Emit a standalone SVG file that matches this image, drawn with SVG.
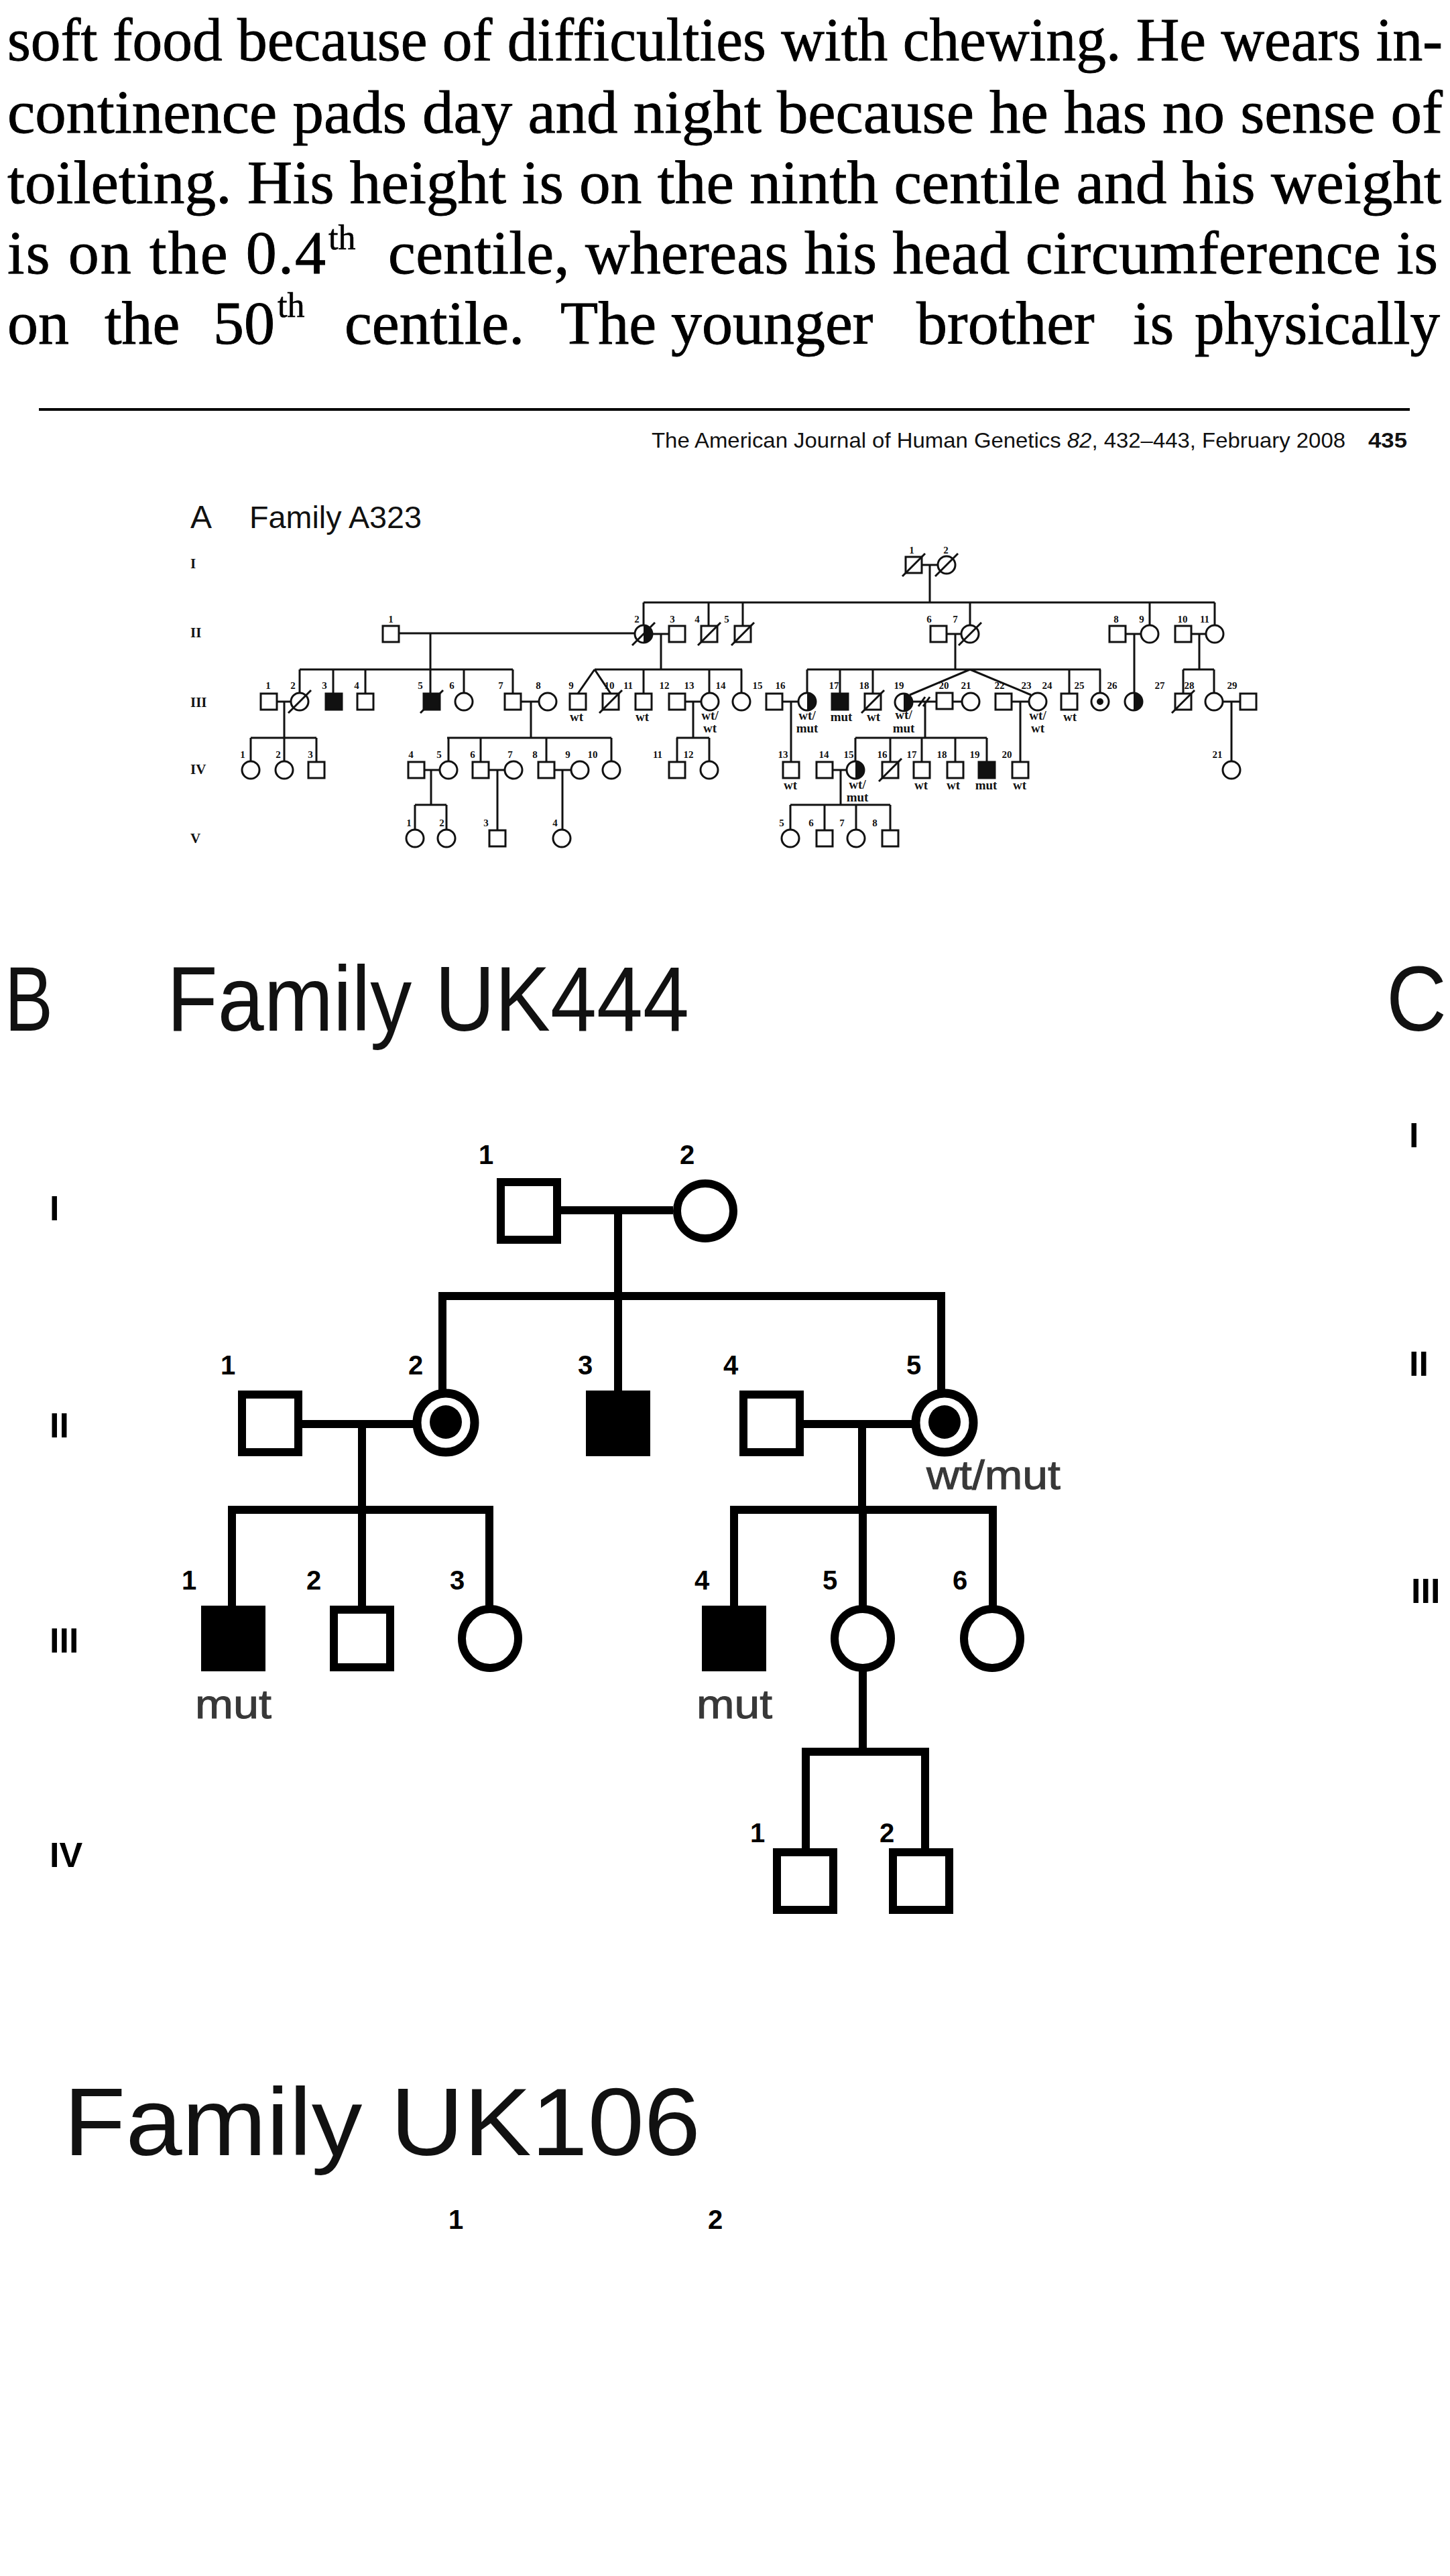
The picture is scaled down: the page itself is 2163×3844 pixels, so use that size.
<svg xmlns="http://www.w3.org/2000/svg" width="2163" height="3844" viewBox="0 0 2163 3844">
<style>
.body{font-family:"Liberation Serif",serif;font-size:92px;fill:#000;stroke:#000;stroke-width:0.9px}
.sup{font-family:"Liberation Serif",serif;font-size:52px;fill:#000;stroke:#000;stroke-width:0.6px}
.jr{font-family:"Liberation Sans",sans-serif;font-size:32px;fill:#111}
.ttl{font-family:"Liberation Sans",sans-serif;fill:#111}
.gA{font-family:"Liberation Serif",serif;font-weight:bold;font-size:21px;fill:#111}
.an{font-family:"Liberation Serif",serif;font-weight:bold;font-size:15px;fill:#111;text-anchor:middle}
.ag{font-family:"Liberation Serif",serif;font-weight:bold;font-size:19px;fill:#111;text-anchor:middle}
.o{fill:#fff;stroke:#111;stroke-width:3}
.f{fill:#111;stroke:#111;stroke-width:3}
.k{fill:#111}
.l{fill:none;stroke:#111;stroke-width:3}
.bl{fill:none;stroke:#000;stroke-width:12}
.bo{fill:#fff;stroke:#000;stroke-width:12}
.bf{fill:#000;stroke:#000;stroke-width:12}
.bc{fill:#fff;stroke:#000;stroke-width:13}
.bn{font-family:"Liberation Sans",sans-serif;font-weight:bold;font-size:40px;fill:#000;text-anchor:middle}
.bg{font-family:"Liberation Sans",sans-serif;font-weight:bold;font-size:52px;fill:#000}
.bm{font-family:"Liberation Sans",sans-serif;font-size:62px;fill:#383838;stroke:#383838;stroke-width:1px}
</style>
<defs>
<rect id="sq" x="-12" y="-12" width="24" height="24"/>
<circle id="ci" r="13"/>
<path id="hf" d="M0,-13 A13,13 0 0 1 0,13 Z"/>
<line id="sl" x1="-17" y1="17" x2="17" y2="-17"/>
<circle id="dt" r="5"/>
</defs>
<rect x="0" y="0" width="2163" height="3844" fill="#fff"/>

<g id="page-text">
<text class="body" x="11" y="90" textLength="2141" lengthAdjust="spacingAndGlyphs">soft food because of difficulties with chewing. He wears in-</text>
<text class="body" x="11" y="198" textLength="2141" lengthAdjust="spacingAndGlyphs">continence pads day and night because he has no sense of</text>
<text class="body" x="11" y="303" textLength="2139" lengthAdjust="spacingAndGlyphs">toileting. His height is on the ninth centile and his weight</text>
<text class="body" x="11" y="408" textLength="475" lengthAdjust="spacing">is on the 0.4</text>
<text class="sup" x="490" y="372">th</text>
<text class="body" x="579" y="408" textLength="1566" lengthAdjust="spacing">centile, whereas his head circumference is</text>
<text class="body" x="11" y="513">on</text>
<text class="body" x="156" y="513">the</text>
<text class="body" x="318" y="513">50</text>
<text class="sup" x="414" y="473">th</text>
<text class="body" x="514" y="513">centile.</text>
<text class="body" x="836" y="513">The</text>
<text class="body" x="1001" y="513">younger</text>
<text class="body" x="1367" y="513">brother</text>
<text class="body" x="1690" y="513">is</text>
<text class="body" x="1782" y="513" textLength="366" lengthAdjust="spacingAndGlyphs">physically</text>
<line x1="58" y1="611" x2="2103" y2="611" stroke="#000" stroke-width="4"/>
<text class="jr" x="972" y="668" textLength="1035" lengthAdjust="spacingAndGlyphs">The American Journal of Human Genetics <tspan font-style="italic">82</tspan>, 432–443, February 2008</text>
<text class="jr" x="2041" y="668" font-weight="bold" textLength="58" lengthAdjust="spacingAndGlyphs">435</text>
</g>

<g id="panel-A-labels">
<text class="ttl" x="284" y="788" font-size="48">A</text>
<text class="ttl" x="372" y="788" font-size="47" textLength="257" lengthAdjust="spacingAndGlyphs">Family A323</text>
<text class="gA" x="284" y="848">I</text>
<text class="gA" x="284" y="951">II</text>
<text class="gA" x="284" y="1055">III</text>
<text class="gA" x="284" y="1155">IV</text>
<text class="gA" x="284" y="1258">V</text>
</g>

<g id="A-connectors" class="l">
<path d="M1375,843 H1399 M1387,843 V899 M960,899 H1812 M960,899 V933 M1057,899 V934 M1108,899 V934 M1447,899 V933 M1715,899 V933 M1812,899 V933"/>
<path d="M595,945 H947 M642,945 V999 M974,946 H998 M986,946 V999 M1412,946 H1434 M1425,946 V999 M1679,946 H1702 M1692,946 V1034 M1777,946 H1799 M1789,946 V999"/>
<path d="M447,999 H765 M447,999 V1034 M497,999 V1035 M545,999 V1035 M642,999 V1035 M692,999 V1034 M765,999 V1035"/>
<path d="M887,999 H1107 M887,999 L862,1035 M887,999 L911,1035 M960,999 V1035 M1058,999 V1034 M1106,999 V1034"/>
<path d="M1204,999 H1642 M1204,999 V1034 M1253,999 V1035 M1302,999 V1035 M1447,999 L1357,1037 M1447,999 L1538,1037 M1595,999 V1035 M1641,999 V1034"/>
<path d="M1765,999 H1811 M1765,999 V1035 M1811,999 V1034"/>
<path d="M413,1047 H434 M424,1047 V1101 M777,1047 H804 M792,1047 V1101 M1022,1047 H1046 M1034,1047 V1101 M1167,1047 H1191 M1180,1047 V1137 M1361,1047 H1397 M1370,1054 L1380,1040 M1377,1054 L1387,1040 M1380,1047 V1101 M1421,1047 H1435 M1509,1047 H1535 M1522,1047 V1137 M1824,1047 H1850 M1837,1047 V1136"/>
<path d="M374,1101 H472 M374,1101 V1136 M424,1101 V1136 M472,1101 V1137 M667,1101 H912 M669,1101 V1136 M717,1101 V1137 M815,1101 V1137 M912,1101 V1136 M1009,1101 H1058 M1010,1101 V1137 M1058,1101 V1136 M1276,1101 H1472 M1276,1101 V1136 M1328,1101 V1137 M1375,1101 V1137 M1425,1101 V1137 M1472,1101 V1137"/>
<path d="M633,1149 H656 M643,1149 V1201 M729,1149 H753 M742,1149 V1239 M827,1149 H852 M839,1149 V1238 M1242,1149 H1263 M1254,1149 V1201"/>
<path d="M619,1201 H666 M619,1201 V1238 M666,1201 V1238 M1179,1201 H1328 M1179,1201 V1238 M1230,1201 V1239 M1277,1201 V1238 M1328,1201 V1239"/>
</g>

<g id="A-nodes">
<g id="a-I-1"><use href="#sq" x="1363" y="843" class="o"/><use href="#sl" x="1363" y="843" class="l"/><text class="an" x="1360" y="826">1</text></g>
<g id="a-I-2"><use href="#ci" x="1412" y="843" class="o"/><use href="#sl" x="1412" y="843" class="l"/><text class="an" x="1411" y="826">2</text></g>

<g id="a-II-1"><use href="#sq" x="583" y="946" class="o"/><text class="an" x="583" y="929">1</text></g>
<g id="a-II-2"><use href="#ci" x="960" y="946" class="o"/><use href="#hf" x="960" y="946" class="k"/><use href="#sl" x="960" y="946" class="l"/><text class="an" x="950" y="929">2</text></g>
<g id="a-II-3"><use href="#sq" x="1010" y="946" class="o"/><text class="an" x="1003" y="929">3</text></g>
<g id="a-II-4"><use href="#sq" x="1058" y="946" class="o"/><use href="#sl" x="1058" y="946" class="l"/><text class="an" x="1040" y="929">4</text></g>
<g id="a-II-5"><use href="#sq" x="1108" y="946" class="o"/><use href="#sl" x="1108" y="946" class="l"/><text class="an" x="1084" y="929">5</text></g>
<g id="a-II-6"><use href="#sq" x="1400" y="946" class="o"/><text class="an" x="1386" y="929">6</text></g>
<g id="a-II-7"><use href="#ci" x="1447" y="946" class="o"/><use href="#sl" x="1447" y="946" class="l"/><text class="an" x="1425" y="929">7</text></g>
<g id="a-II-8"><use href="#sq" x="1667" y="946" class="o"/><text class="an" x="1665" y="929">8</text></g>
<g id="a-II-9"><use href="#ci" x="1715" y="946" class="o"/><text class="an" x="1703" y="929">9</text></g>
<g id="a-II-10"><use href="#sq" x="1765" y="946" class="o"/><text class="an" x="1764" y="929">10</text></g>
<g id="a-II-11"><use href="#ci" x="1812" y="946" class="o"/><text class="an" x="1797" y="929">11</text></g>

<g id="a-III-1"><use href="#sq" x="401" y="1047" class="o"/><text class="an" x="400" y="1028">1</text></g>
<g id="a-III-2"><use href="#ci" x="447" y="1047" class="o"/><use href="#sl" x="447" y="1047" class="l"/><text class="an" x="437" y="1028">2</text></g>
<g id="a-III-3"><use href="#sq" x="498" y="1047" class="f"/><text class="an" x="484" y="1028">3</text></g>
<g id="a-III-4"><use href="#sq" x="545" y="1047" class="o"/><text class="an" x="532" y="1028">4</text></g>
<g id="a-III-5"><use href="#sq" x="644" y="1047" class="f"/><use href="#sl" x="644" y="1047" class="l"/><text class="an" x="627" y="1028">5</text></g>
<g id="a-III-6"><use href="#ci" x="692" y="1047" class="o"/><text class="an" x="674" y="1028">6</text></g>
<g id="a-III-7"><use href="#sq" x="765" y="1047" class="o"/><text class="an" x="747" y="1028">7</text></g>
<g id="a-III-8"><use href="#ci" x="817" y="1047" class="o"/><text class="an" x="803" y="1028">8</text></g>
<g id="a-III-9"><use href="#sq" x="862" y="1047" class="o"/><text class="an" x="852" y="1028">9</text><text class="ag" x="860" y="1076">wt</text></g>
<g id="a-III-10"><use href="#sq" x="911" y="1047" class="o"/><use href="#sl" x="911" y="1047" class="l"/><text class="an" x="909" y="1028">10</text></g>
<g id="a-III-11"><use href="#sq" x="960" y="1047" class="o"/><text class="an" x="937" y="1028">11</text><text class="ag" x="958" y="1076">wt</text></g>
<g id="a-III-12"><use href="#sq" x="1010" y="1047" class="o"/><text class="an" x="991" y="1028">12</text></g>
<g id="a-III-13"><use href="#ci" x="1059" y="1047" class="o"/><text class="an" x="1028" y="1028">13</text><text class="ag" x="1059" y="1074">wt/</text><text class="ag" x="1059" y="1093">wt</text></g>
<g id="a-III-14"><use href="#ci" x="1106" y="1047" class="o"/><text class="an" x="1075" y="1028">14</text></g>
<g id="a-III-15"><use href="#sq" x="1155" y="1047" class="o"/><text class="an" x="1130" y="1028">15</text></g>
<g id="a-III-16"><use href="#ci" x="1204" y="1047" class="o"/><use href="#hf" x="1204" y="1047" class="k"/><text class="an" x="1164" y="1028">16</text><text class="ag" x="1204" y="1074">wt/</text><text class="ag" x="1204" y="1093">mut</text></g>
<g id="a-III-17"><use href="#sq" x="1253" y="1047" class="f"/><text class="an" x="1244" y="1028">17</text><text class="ag" x="1255" y="1076">mut</text></g>
<g id="a-III-18"><use href="#sq" x="1302" y="1047" class="o"/><use href="#sl" x="1302" y="1047" class="l"/><text class="an" x="1289" y="1028">18</text><text class="ag" x="1303" y="1076">wt</text></g>
<g id="a-III-19"><use href="#ci" x="1348" y="1048" class="o"/><use href="#hf" x="1348" y="1048" class="k"/><text class="an" x="1341" y="1028">19</text><text class="ag" x="1348" y="1073">wt/</text><text class="ag" x="1348" y="1093">mut</text></g>
<g id="a-III-20"><use href="#sq" x="1409" y="1046" class="o"/><text class="an" x="1408" y="1028">20</text></g>
<g id="a-III-21"><use href="#ci" x="1448" y="1047" class="o"/><text class="an" x="1441" y="1028">21</text></g>
<g id="a-III-22"><use href="#sq" x="1497" y="1047" class="o"/><text class="an" x="1491" y="1028">22</text></g>
<g id="a-III-23"><text class="an" x="1531" y="1028">23</text></g>
<g id="a-III-24"><use href="#ci" x="1548" y="1047" class="o"/><text class="an" x="1562" y="1028">24</text><text class="ag" x="1548" y="1074">wt/</text><text class="ag" x="1548" y="1093">wt</text></g>
<g id="a-III-25"><use href="#sq" x="1595" y="1047" class="o"/><text class="an" x="1610" y="1028">25</text><text class="ag" x="1596" y="1076">wt</text></g>
<g id="a-III-26"><use href="#ci" x="1641" y="1047" class="o"/><use href="#dt" x="1641" y="1047" class="k"/><text class="an" x="1659" y="1028">26</text></g>
<g id="a-III-27"><use href="#ci" x="1691" y="1047" class="o"/><use href="#hf" x="1691" y="1047" class="k"/><text class="an" x="1730" y="1028">27</text></g>
<g id="a-III-28"><use href="#sq" x="1765" y="1047" class="o"/><use href="#sl" x="1765" y="1047" class="l"/><text class="an" x="1774" y="1028">28</text></g>
<g id="a-III-29"><use href="#ci" x="1811" y="1047" class="o"/><text class="an" x="1838" y="1028">29</text></g>
<g id="a-III-30"><use href="#sq" x="1862" y="1047" class="o"/></g>

<g id="a-IV-1"><use href="#ci" x="374" y="1149" class="o"/><text class="an" x="362" y="1131">1</text></g>
<g id="a-IV-2"><use href="#ci" x="424" y="1149" class="o"/><text class="an" x="415" y="1131">2</text></g>
<g id="a-IV-3"><use href="#sq" x="472" y="1149" class="o"/><text class="an" x="463" y="1131">3</text></g>
<g id="a-IV-4"><use href="#sq" x="621" y="1149" class="o"/><text class="an" x="613" y="1131">4</text></g>
<g id="a-IV-5"><use href="#ci" x="669" y="1149" class="o"/><text class="an" x="655" y="1131">5</text></g>
<g id="a-IV-6"><use href="#sq" x="717" y="1149" class="o"/><text class="an" x="705" y="1131">6</text></g>
<g id="a-IV-7"><use href="#ci" x="766" y="1149" class="o"/><text class="an" x="761" y="1131">7</text></g>
<g id="a-IV-8"><use href="#sq" x="815" y="1149" class="o"/><text class="an" x="798" y="1131">8</text></g>
<g id="a-IV-9"><use href="#ci" x="865" y="1149" class="o"/><text class="an" x="847" y="1131">9</text></g>
<g id="a-IV-10"><use href="#ci" x="912" y="1149" class="o"/><text class="an" x="884" y="1131">10</text></g>
<g id="a-IV-11"><use href="#sq" x="1010" y="1149" class="o"/><text class="an" x="981" y="1131">11</text></g>
<g id="a-IV-12"><use href="#ci" x="1058" y="1149" class="o"/><text class="an" x="1027" y="1131">12</text></g>
<g id="a-IV-13"><use href="#sq" x="1180" y="1149" class="o"/><text class="an" x="1168" y="1131">13</text><text class="ag" x="1179" y="1178">wt</text></g>
<g id="a-IV-14"><use href="#sq" x="1230" y="1149" class="o"/><text class="an" x="1229" y="1131">14</text></g>
<g id="a-IV-15"><use href="#ci" x="1276" y="1149" class="o"/><use href="#hf" x="1276" y="1149" class="k"/><text class="an" x="1266" y="1131">15</text><text class="ag" x="1279" y="1177">wt/</text><text class="ag" x="1279" y="1196">mut</text></g>
<g id="a-IV-16"><use href="#sq" x="1328" y="1149" class="o"/><use href="#sl" x="1328" y="1149" class="l"/><text class="an" x="1316" y="1131">16</text></g>
<g id="a-IV-17"><use href="#sq" x="1375" y="1149" class="o"/><text class="an" x="1360" y="1131">17</text><text class="ag" x="1374" y="1178">wt</text></g>
<g id="a-IV-18"><use href="#sq" x="1425" y="1149" class="o"/><text class="an" x="1405" y="1131">18</text><text class="ag" x="1422" y="1178">wt</text></g>
<g id="a-IV-19"><use href="#sq" x="1472" y="1149" class="f"/><text class="an" x="1454" y="1131">19</text><text class="ag" x="1471" y="1178">mut</text></g>
<g id="a-IV-20"><use href="#sq" x="1522" y="1149" class="o"/><text class="an" x="1502" y="1131">20</text><text class="ag" x="1521" y="1178">wt</text></g>
<g id="a-IV-21"><use href="#ci" x="1837" y="1149" class="o"/><text class="an" x="1816" y="1131">21</text></g>

<g id="a-V-1"><use href="#ci" x="619" y="1251" class="o"/><text class="an" x="610" y="1233">1</text></g>
<g id="a-V-2"><use href="#ci" x="666" y="1251" class="o"/><text class="an" x="659" y="1233">2</text></g>
<g id="a-V-3"><use href="#sq" x="742" y="1251" class="o"/><text class="an" x="725" y="1233">3</text></g>
<g id="a-V-4"><use href="#ci" x="838" y="1251" class="o"/><text class="an" x="828" y="1233">4</text></g>
<g id="a-V-5"><use href="#ci" x="1179" y="1251" class="o"/><text class="an" x="1166" y="1233">5</text></g>
<g id="a-V-6"><use href="#sq" x="1230" y="1251" class="o"/><text class="an" x="1210" y="1233">6</text></g>
<g id="a-V-7"><use href="#ci" x="1277" y="1251" class="o"/><text class="an" x="1256" y="1233">7</text></g>
<g id="a-V-8"><use href="#sq" x="1328" y="1251" class="o"/><text class="an" x="1305" y="1233">8</text></g>
</g>

<g id="panel-B-labels">
<text class="ttl" x="7" y="1538" font-size="138" textLength="72" lengthAdjust="spacingAndGlyphs">B</text>
<text class="ttl" x="249" y="1538" font-size="138" textLength="779" lengthAdjust="spacingAndGlyphs">Family UK444</text>
<text class="ttl" x="2068" y="1538" font-size="138" textLength="90" lengthAdjust="spacingAndGlyphs">C</text>
<text class="bg" x="74" y="1821">I</text>
<text class="bg" x="74" y="2145">II</text>
<text class="bg" x="74" y="2466">III</text>
<text class="bg" x="74" y="2786">IV</text>
<text class="bg" x="2102" y="1712" font-size="58">I</text>
<text class="bg" x="2102" y="2053" font-size="58">II</text>
<text class="bg" x="2105" y="2392" font-size="58">III</text>
</g>

<g id="B-connectors" class="bl">
<path d="M836,1806 H1004 M922,1806 V2081"/>
<path d="M660,2079 V1934 H1404 V2079"/>
<path d="M449,2125 H622 M540,2125 V2402"/>
<path d="M346,2402 V2253 H730 V2401"/>
<path d="M1199,2125 H1366 M1286,2125 V2253"/>
<path d="M1095,2402 V2253 H1481 V2401 M1287,2253 V2401"/>
<path d="M1287,2489 V2614"/>
<path d="M1202,2764 V2614 H1380 V2764"/>
</g>

<g id="B-nodes">
<g id="b-I-1"><rect class="bo" x="747" y="1764" width="84" height="86"/><text class="bn" x="725" y="1737">1</text></g>
<g id="b-I-2"><ellipse class="bo" cx="1052" cy="1807" rx="42" ry="41"/><text class="bn" x="1025" y="1737">2</text></g>
<g id="b-II-1"><rect class="bo" x="361" y="2081" width="84" height="86"/><text class="bn" x="340" y="2051">1</text></g>
<g id="b-II-2"><ellipse class="bc" cx="665" cy="2123" rx="43" ry="44"/><ellipse fill="#000" cx="665" cy="2122" rx="24" ry="25"/><text class="bn" x="620" y="2051">2</text></g>
<g id="b-II-3"><rect class="bf" x="880" y="2081" width="84" height="86"/><text class="bn" x="873" y="2051">3</text></g>
<g id="b-II-4"><rect class="bo" x="1109" y="2081" width="84" height="86"/><text class="bn" x="1090" y="2051">4</text></g>
<g id="b-II-5"><ellipse class="bc" cx="1409" cy="2123" rx="43" ry="44"/><ellipse fill="#000" cx="1409" cy="2122" rx="24" ry="25"/><text class="bn" x="1363" y="2051">5</text><text class="bm" x="1382" y="2222" textLength="200" lengthAdjust="spacingAndGlyphs">wt/mut</text></g>
<g id="b-III-1"><rect class="bf" x="306" y="2402" width="84" height="86"/><text class="bn" x="282" y="2372">1</text><text class="bm" x="291" y="2564" textLength="114" lengthAdjust="spacingAndGlyphs">mut</text></g>
<g id="b-III-2"><rect class="bo" x="498" y="2402" width="84" height="86"/><text class="bn" x="468" y="2372">2</text></g>
<g id="b-III-3"><ellipse class="bo" cx="731" cy="2445" rx="42" ry="44"/><text class="bn" x="682" y="2372">3</text></g>
<g id="b-III-4"><rect class="bf" x="1053" y="2402" width="84" height="86"/><text class="bn" x="1047" y="2372">4</text><text class="bm" x="1039" y="2564" textLength="113" lengthAdjust="spacingAndGlyphs">mut</text></g>
<g id="b-III-5"><ellipse class="bo" cx="1287" cy="2445" rx="42" ry="44"/><text class="bn" x="1238" y="2372">5</text></g>
<g id="b-III-6"><ellipse class="bo" cx="1480" cy="2445" rx="42" ry="44"/><text class="bn" x="1432" y="2372">6</text></g>
<g id="b-IV-1"><rect class="bo" x="1159" y="2764" width="84" height="86"/><text class="bn" x="1130" y="2749">1</text></g>
<g id="b-IV-2"><rect class="bo" x="1332" y="2764" width="84" height="86"/><text class="bn" x="1323" y="2749">2</text></g>
</g>

<g id="panel-UK106">
<text class="ttl" x="95" y="3216" font-size="143" textLength="950" lengthAdjust="spacingAndGlyphs">Family UK106</text>
<g id="uk106-1"><text class="bn" x="680" y="3326" font-size="44">1</text></g>
<g id="uk106-2"><text class="bn" x="1067" y="3326" font-size="44">2</text></g>
</g>
</svg>
